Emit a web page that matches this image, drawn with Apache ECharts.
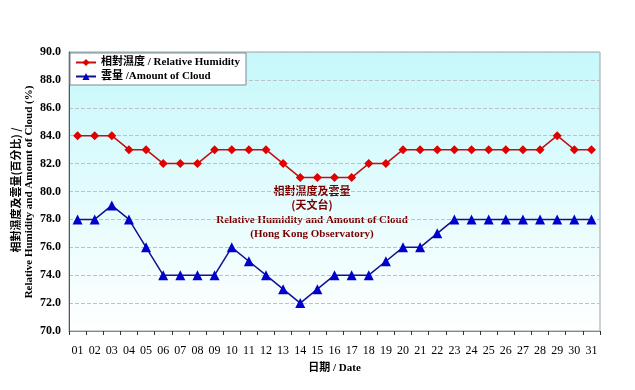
<!DOCTYPE html>
<html><head><meta charset="utf-8">
<script src="https://cdn.jsdelivr.net/npm/echarts@6/dist/echarts.min.js"></script>
<style>html,body{margin:0;padding:0;background:#fff}#c{width:635px;height:390px}</style>
</head><body><div id="c"></div>
<script>
var dates = ['01','02','03','04','05','06','07','08','09','10','11','12','13','14','15','16','17','18','19','20','21','22','23','24','25','26','27','28','29','30','31'];
var humidity = [84,84,84,83,83,82,82,82,83,83,83,83,82,81,81,81,81,82,82,83,83,83,83,83,83,83,83,83,84,83,83];
var cloud = [78,78,79,78,76,74,74,74,74,76,75,74,73,72,73,74,74,74,75,76,76,77,78,78,78,78,78,78,78,78,78];
var yTicks = {min:70, max:90, interval:2};

var SERIF = '"Liberation Serif","Noto Sans CJK TC",serif';
var chart = echarts.init(document.getElementById('c'), null, {renderer:'canvas'});
var L = 69, T = 52, R = 600, B = 331;
chart.setOption({
  animation:false,
  backgroundColor:'#fff',
  grid:{left:L, top:T, width:R-L, height:B-T, show:true, borderColor:'#9aa3a8', borderWidth:1,
    backgroundColor:{type:'linear',x:0,y:0,x2:0,y2:1,colorStops:[{offset:0,color:'#c6f8fb'},{offset:1,color:'#ffffff'}]}},
  legend:{left:L+1, top:T+1, orient:'vertical', itemGap:3, itemWidth:20, itemHeight:9,
    padding:[4,6,3,5], backgroundColor:'#fff', borderColor:'#7a8a90', borderWidth:1,
    textStyle:{fontFamily:SERIF, fontWeight:'bold', fontSize:11, color:'#000'},
    data:['相對濕度 / Relative Humidity','雲量 /Amount of Cloud']},
  xAxis:{type:'category', data:dates, boundaryGap:true,
    axisLine:{lineStyle:{color:'#888', width:1}},
    axisTick:{show:true, length:4, lineStyle:{color:'#333'}},
    axisLabel:{fontFamily:SERIF, fontSize:12, color:'#000', margin:14},
    name:'日期 / Date', nameLocation:'middle', nameGap:32,
    nameTextStyle:{fontFamily:SERIF, fontSize:11, fontWeight:'bold', color:'#000'}},
  yAxis:{type:'value', min:yTicks.min, max:yTicks.max, interval:yTicks.interval,
    axisLine:{show:true, lineStyle:{color:'#555'}},
    axisTick:{show:false},
    axisLabel:{fontFamily:SERIF, fontSize:12, fontWeight:'bold', color:'#000', margin:8,
      formatter:function(v){return v.toFixed(1);}},
    splitLine:{lineStyle:{color:'#b8c4c8', type:'dashed', width:1}}},
  graphic:[
    {type:'text', position:[16,190], rotation:Math.PI/2,
      style:{text:'相對濕度及雲量(百分比) /', fill:'#000', font:'bold 11px "Noto Sans CJK TC"', textAlign:'center', textVerticalAlign:'middle'}},
    {type:'text', position:[29,192], rotation:Math.PI/2,
      style:{text:'Relative Humidity and Amount of Cloud (%)', fill:'#000', font:'bold 11px "Liberation Serif"', textAlign:'center', textVerticalAlign:'middle'}},
    {type:'text', position:[312,191],
      style:{text:'相對濕度及雲量', fill:'#7a0000', font:'bold 11px "Noto Sans CJK TC"', textAlign:'center', textVerticalAlign:'middle'}},
    {type:'text', position:[312,205],
      style:{text:'(天文台)', fill:'#7a0000', font:'bold 11px "Noto Sans CJK TC"', textAlign:'center', textVerticalAlign:'middle'}},
    {type:'text', position:[312,220],
      style:{text:'Relative Humidity and Amount of Cloud', fill:'#7a0000', font:'bold 11px "Liberation Serif"', textAlign:'center', textVerticalAlign:'middle'}},
    {type:'text', position:[312,234],
      style:{text:'(Hong Kong Observatory)', fill:'#7a0000', font:'bold 11px "Liberation Serif"', textAlign:'center', textVerticalAlign:'middle'}}
  ],
  series:[
    {name:'相對濕度 / Relative Humidity', type:'line', data:humidity, symbol:'diamond', symbolSize:9,
      lineStyle:{color:'#c01010', width:1.5}, itemStyle:{color:'#e00000'}},
    {name:'雲量 /Amount of Cloud', type:'line', data:cloud, symbol:'triangle', symbolSize:10,
      lineStyle:{color:'#101090', width:1.5}, itemStyle:{color:'#0000cc'}}
  ]
});
</script></body></html>
